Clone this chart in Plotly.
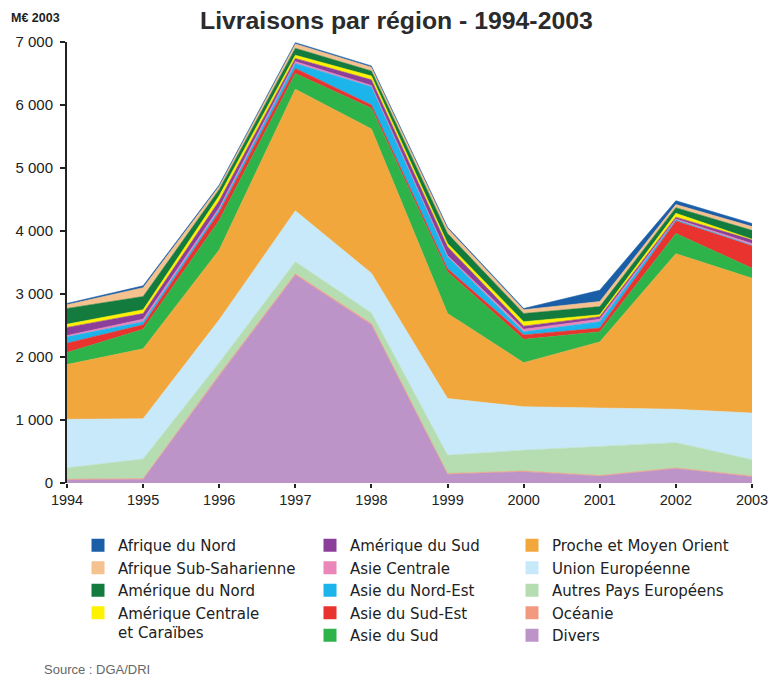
import plotly.graph_objects as go

years = [1994, 1995, 1996, 1997, 1998, 1999, 2000, 2001, 2002, 2003]

# Values in M€ 2003, stacking order bottom -> top
divers = [50, 60, 1700, 3300, 2510, 140, 180, 110, 230, 100]
oceanie = [10, 10, 20, 20, 20, 10, 10, 10, 10, 10]
autres_pays_europeens = [180, 310, 190, 190, 170, 290, 330, 460, 400, 260]
union_europeenne = [770, 640, 680, 810, 630, 900, 690, 610, 530, 740]
proche_moyen_orient = [870, 1110, 1110, 1930, 2290, 1350, 700, 1050, 2470, 2140]
asie_du_sud = [190, 310, 470, 250, 330, 660, 370, 160, 320, 160]
asie_du_sud_est = [150, 70, 130, 80, 50, 50, 70, 60, 200, 360]
asie_du_nord_est = [100, 50, 40, 80, 290, 190, 50, 100, 20, 0]
asie_centrale = [20, 40, 30, 30, 20, 20, 40, 40, 10, 30]
amerique_du_sud = [130, 90, 110, 50, 90, 140, 50, 40, 30, 60]
amerique_centrale = [50, 60, 80, 50, 60, 50, 70, 30, 60, 10]
amerique_du_nord = [250, 210, 100, 110, 80, 160, 130, 130, 90, 140]
afrique_sub_saharienne = [60, 140, 50, 70, 60, 80, 60, 80, 50, 60]
afrique_du_nord = [20, 30, 20, 20, 20, 20, 20, 180, 60, 50]

y_tick_values = [0, 1000, 2000, 3000, 4000, 5000, 6000, 7000]
y_tick_labels = ["0", "1 000", "2 000", "3 000", "4 000", "5 000", "6 000", "7 000"]

FONT = "Liberation Sans, Arial, Helvetica, sans-serif"
LEG_FONT = "DejaVu Sans, Liberation Sans, sans-serif"

W, H = 769, 681
ML, MT = 67, 42
MR = W - 752
MB = H - 483
PW, PH = W - ML - MR, H - MT - MB

# (name, values, color, legend column)
series = [
    ("Divers", divers, "#bd94c7", "legend3"),
    ("Océanie", oceanie, "#f29a80", "legend3"),
    ("Autres Pays Européens", autres_pays_europeens, "#b6ddb1", "legend3"),
    ("Union Européenne", union_europeenne, "#c8e9f9", "legend3"),
    ("Proche et Moyen Orient", proche_moyen_orient, "#f2a73c", "legend3"),
    ("Asie du Sud", asie_du_sud, "#2eb34b", "legend2"),
    ("Asie du Sud-Est", asie_du_sud_est, "#e8332e", "legend2"),
    ("Asie du Nord-Est", asie_du_nord_est, "#1bb5ec", "legend2"),
    ("Asie Centrale", asie_centrale, "#ea86b9", "legend2"),
    ("Amérique du Sud", amerique_du_sud, "#8b3f9b", "legend2"),
    ("Amérique Centrale<br>et Caraïbes", amerique_centrale, "#fff200", "legend"),
    ("Amérique du Nord", amerique_du_nord, "#127b3d", "legend"),
    ("Afrique Sub-Saharienne", afrique_sub_saharienne, "#f5c18f", "legend"),
    ("Afrique du Nord", afrique_du_nord, "#1a5ea8", "legend"),
]

fig = go.Figure()

for name, vals, color, _ in series:
    fig.add_trace(go.Scatter(
        x=years, y=vals, name=name, stackgroup="one", mode="lines",
        line=dict(width=0.6, color=color), fillcolor=color,
        showlegend=False, hoverinfo="x+y+name",
    ))

# Legend entries (legend-only traces, listed top -> bottom per column)
for name, vals, color, leg in reversed(series):
    fig.add_trace(go.Scatter(
        x=[None], y=[None], name=name, mode="markers",
        marker=dict(symbol="square", size=13, color=color, line=dict(width=0)),
        legend=leg, showlegend=True, hoverinfo="skip",
    ))

def legend_cfg(xpx):
    return dict(
        x=xpx / W, y=1 - 529 / H, xref="container", yref="container",
        xanchor="left", yanchor="top", bgcolor="rgba(0,0,0,0)",
        font=dict(family=LEG_FONT, size=15, color="#222222"),
        itemwidth=30, traceorder="normal", tracegroupgap=0, valign="top",
    )

fig.update_layout(
    width=W, height=H,
    paper_bgcolor="white", plot_bgcolor="white",
    margin=dict(l=ML, r=MR, t=MT, b=MB, autoexpand=False),
    font=dict(family=FONT, size=14, color="#222222"),
    xaxis=dict(
        range=[1994, 2003], tickvals=years, ticktext=[str(y) for y in years],
        showgrid=False, zeroline=False, showline=False,
        ticks="outside", ticklen=4, tickwidth=2, tickcolor="#222222",
        tickfont=dict(family=FONT, size=14.5, color="#222222"),
        ticklabeloverflow="allow",
        fixedrange=True, automargin=False,
    ),
    yaxis=dict(
        range=[0, 7000], tickvals=y_tick_values, ticktext=y_tick_labels,
        showgrid=False, zeroline=False, showline=True, linecolor="#222222",
        linewidth=2, ticks="outside", ticklen=5, tickwidth=2,
        tickcolor="#222222", ticklabelstandoff=4,
        tickfont=dict(family=FONT, size=15, color="#222222"),
        fixedrange=True, automargin=False,
    ),
    legend=legend_cfg(78),
    legend2=legend_cfg(310),
    legend3=legend_cfg(512),
    showlegend=True,
    annotations=[
        dict(text="<b>Livraisons par région - 1994-2003</b>", xref="paper",
             yref="paper", x=(396 - ML) / PW, y=1 + 22 / PH,
             xanchor="center", yanchor="middle", showarrow=False,
             font=dict(family=FONT, size=24.8, color="#2b2b2b")),
        dict(text="<b>M€ 2003</b>", xref="paper", yref="paper",
             x=-(ML - 9) / PW, y=1 + 24 / PH, xanchor="left",
             yanchor="middle", showarrow=False,
             font=dict(family=FONT, size=12.5, color="#222222")),
        dict(text="Source : DGA/DRI", xref="paper", yref="paper",
             x=-(ML - 42) / PW, y=-(669 - 483) / PH, xanchor="left",
             yanchor="middle", showarrow=False,
             font=dict(family=FONT, size=13, color="#666666")),
    ],
)

fig.write_html("out.html",
               config={"displayModeBar": False},
               post_script="document.body.style.margin='0px';"
                           "document.body.style.overflow='hidden';")
